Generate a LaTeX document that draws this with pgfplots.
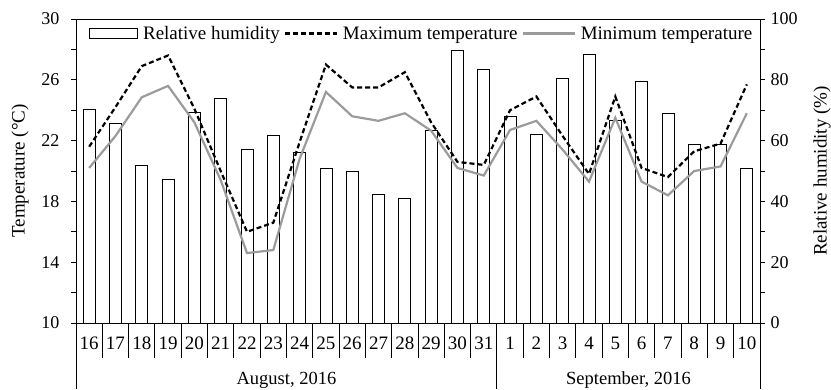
\documentclass[border=0pt]{standalone}
\usepackage{fontspec}
\setmainfont{Liberation Serif}
\usepackage{pgfplots}
\pgfplotsset{compat=1.18}
\definecolor{mingray}{RGB}{155,155,155}
\begin{document}
\begin{tikzpicture}
\useasboundingbox (-76pt,-66pt) rectangle (755pt,323pt);
\pgfplotsset{
  base/.style={scale only axis, width=684pt, height=304pt, xmin=-0.5, xmax=25.5,
   /pgf/number format/assume math mode=true,
   tick label style={font=\fontsize{18}{20}\selectfont},
   label style={font=\fontsize{19}{21}\selectfont},
   axis line style={black, line width=0.9pt},
   tick style={black, line width=0.9pt},
   major tick length=5pt, minor tick length=5pt, tick align=outside}
}
% Relative humidity bars (right axis)
\begin{axis}[base, ymin=0, ymax=100, axis y line*=right, axis x line=none,
  ytick={0,20,...,100}, minor y tick num=1,
  yticklabel style={xshift=2pt},
  ylabel={Relative humidity (\%)},
  ylabel style={at={([xshift=62pt]rel axis cs:1,0.5)}, anchor=center}]
\addplot[ybar, bar width=12pt, draw=black, fill=white, line width=0.8pt] coordinates {
(0,70.1) (1,65.7) (2,51.7) (3,47.3) (4,69.4) (5,73.8) (6,57.0) (7,61.8) (8,56.1)
(9,50.7) (10,49.9) (11,42.4) (12,40.9) (13,63.2) (14,89.6) (15,83.4)
(16,67.9) (17,62.2) (18,80.3) (19,88.5) (20,66.8) (21,79.4) (22,69.0) (23,58.9) (24,58.6) (25,50.7)};
\end{axis}
% Temperatures (left axis)
\begin{axis}[base, ymin=10, ymax=30, ytick={10,14,...,30}, minor y tick num=1,
  ytick pos=left, xtick=\empty,
  yticklabel style={xshift=-8pt},
  ylabel={Temperature (°C)},
  ylabel style={at={([xshift=-56pt]rel axis cs:0,0.5)}, anchor=center},
  legend style={at={(0,1)}, anchor=north west, xshift=10pt, yshift=-3pt,
    draw=none, fill=none, font=\fontsize{19}{21}\selectfont, legend columns=3,
    /tikz/every even column/.append style={column sep=2pt},
    /tikz/every odd column/.append style={column sep=3pt}},
  legend image code/.code={\draw[#1] (0pt,0pt) -- (52pt,0pt);},
  legend entries={Relative humidity, Maximum temperature, Minimum temperature}]
\addlegendimage{legend image code/.code={\draw[black, fill=white, line width=0.9pt] (0pt,-5pt) rectangle (48pt,5pt);}}
\addplot[black, dash pattern=on 5pt off 3pt, line width=2.2pt] coordinates {
(0,21.6) (1,24.2) (2,26.9) (3,27.6) (4,24.1) (5,20.0) (6,16.0) (7,16.6) (8,21.9)
(9,27.0) (10,25.5) (11,25.5) (12,26.5) (13,23.2) (14,20.6) (15,20.4)
(16,24.0) (17,24.9) (18,22.3) (19,19.8) (20,24.9) (21,20.2) (22,19.6) (23,21.3) (24,21.8) (25,25.7)};
\addplot[mingray, line width=2.2pt] coordinates {
(0,20.2) (1,22.3) (2,24.85) (3,25.6) (4,23.2) (5,19.4) (6,14.6) (7,14.8) (8,20.8)
(9,25.2) (10,23.6) (11,23.3) (12,23.8) (13,22.65) (14,20.2) (15,19.7)
(16,22.7) (17,23.3) (18,21.4) (19,19.3) (20,23.5) (21,19.3) (22,18.4) (23,20.0) (24,20.3) (25,23.8)};
\end{axis}
% Two-level category axis
\begin{axis}[base, ymin=0, ymax=1, axis y line=none, axis x line*=bottom,
  axis line style={-}, clip=false,
  xtick={0,...,25},
  xticklabels={16,17,18,19,20,21,22,23,24,25,26,27,28,29,30,31,1,2,3,4,5,6,7,8,9,10},
  major tick length=0pt,
  minor xtick={0.5,1.5,...,24.5}, minor tick length=35pt,
  xticklabel style={anchor=center, yshift=-20pt, font=\fontsize{19}{21}\selectfont}]
\draw[black, line width=0.9pt] (axis cs:-0.5,0) -- ++(0pt,-66pt);
\draw[black, line width=0.9pt] (axis cs:15.5,0) -- ++(0pt,-66pt);
\draw[black, line width=0.9pt] (axis cs:25.5,0) -- ++(0pt,-66pt);
\node[font=\fontsize{18.5}{20}\selectfont] at ([yshift=-57pt]axis cs:7.5,0) {August, 2016};
\node[font=\fontsize{18.5}{20}\selectfont] at ([yshift=-57pt]axis cs:20.5,0) {September, 2016};
\end{axis}
\end{tikzpicture}
\end{document}
